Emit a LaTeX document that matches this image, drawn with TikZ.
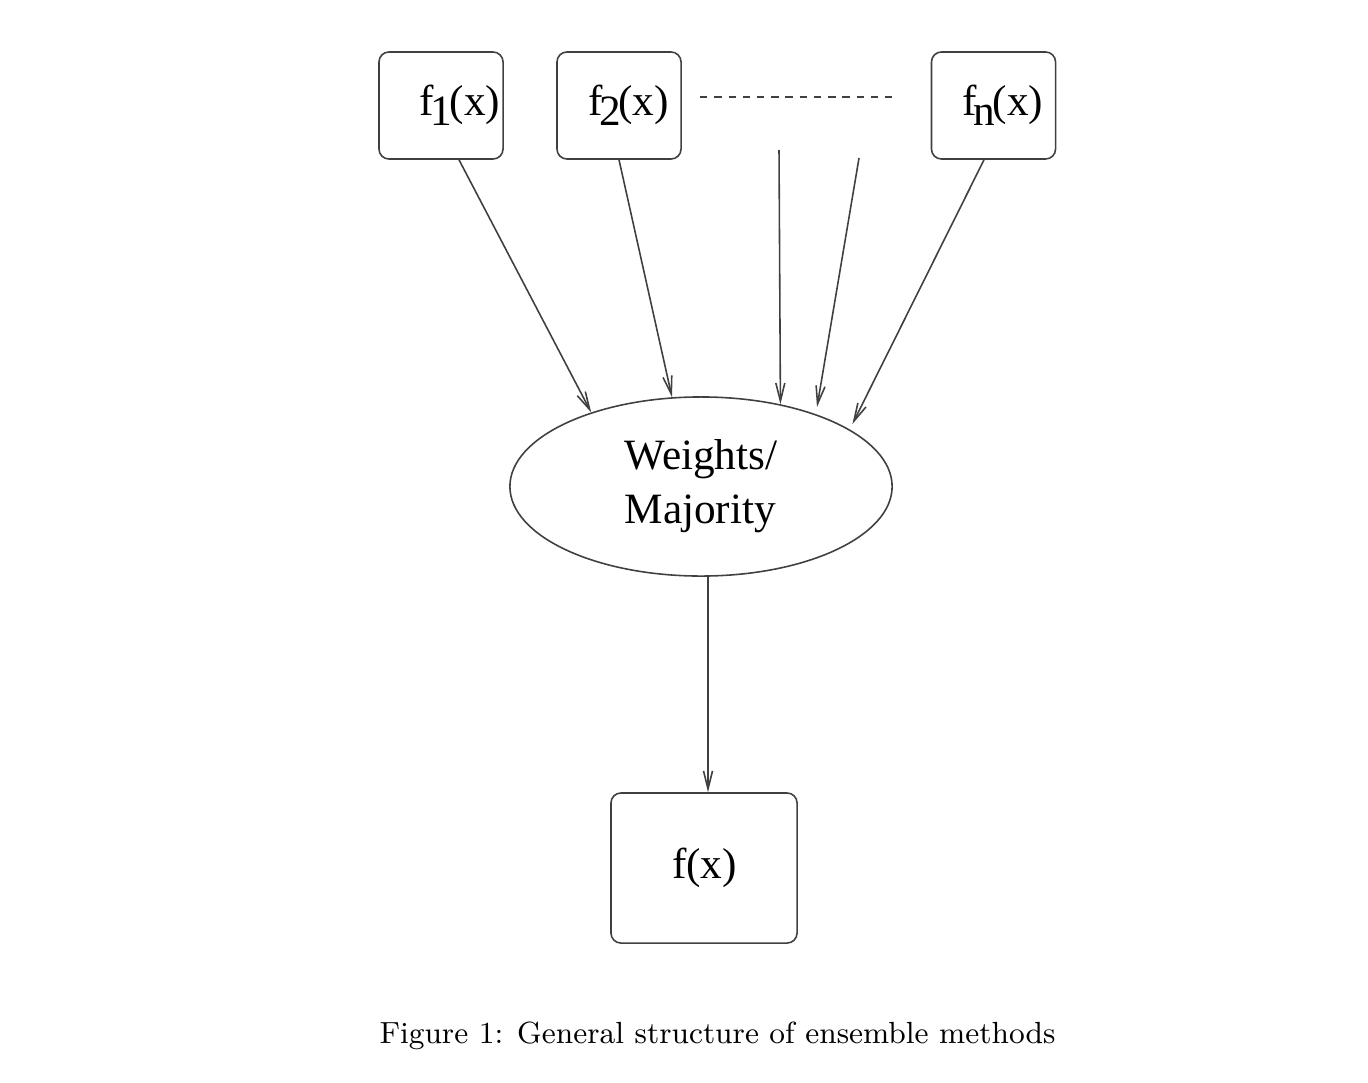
\documentclass[tikz,border=0pt]{standalone}
\usepackage{fontspec}
\newfontfamily\figfont{Liberation Serif}
\usetikzlibrary{shapes.geometric,arrows.meta,calc}
\newcommand{\fsub}[1]{f\kern-0.08em\raisebox{-0.24em}{#1}\kern-0.06em(x)}
\tikzset{
  box/.style={draw=black!75, line width=0.45pt, rounded corners=0.1cm, minimum width=1.24cm, minimum height=1.07cm, inner sep=0pt},
  lbl/.style={font=\figfont\fontsize{12.3}{15.4}\selectfont, inner sep=0pt},
  arr/.style={draw=black!75, line width=0.45pt, -{Straight Barb[length=1.8mm,width=0.9mm]}}
}
\begin{document}
\begin{tikzpicture}[x=0.01cm,y=-0.01cm]
    \useasboundingbox (0,0) rectangle (1368,1082);
    % top row of classifiers
    \node[box] (f1) at (441,105.5) {};
    \node[box] (f2) at (619,105.5) {};
    \node[box] (fn) at (993.5,105.5) {};
    \node[lbl] (t1) at (460,105) {\fsub{1}};
    \node[lbl] (t2) at (628.5,105) {\fsub{2}};
    \node[lbl] (tn) at (1003,105) {\fsub{n}};
    \coordinate (d1) at (700,97);
    \coordinate (d2) at (892,97);
    \draw[black!75, line width=0.45pt, dash pattern=on 2.1pt off 1.95pt] (d1) -- (d2);
    % combiner
    \node[ellipse, draw=black!75, line width=0.45pt, minimum width=3.82cm, minimum height=1.79cm, inner sep=0pt,
          lbl, align=left] (w) at (701,486.5) {Weights/\\Majority};
    % output
    \node[box, minimum width=1.86cm, minimum height=1.5cm] (out) at (704,868) {};
    \node[lbl] (tout) at (704.5,868) {f(x)};
    % arrows
    \coordinate (a3) at (779,150);
    \coordinate (a4) at (859,158);
    \coordinate (b4) at (817,407);
    \draw[arr] ($(f1.south)+(18,0)$) -- (w.146.7);
    \draw[arr] (f2.south) -- (w.108.1);
    \draw[arr] (a3) -- (w.46.3);
    \draw[arr] (a4) -- (b4);
    \draw[arr, shorten >=0.06cm] ($(fn.south)+(-9.5,0)$) -- (w.21.5);
    \draw[arr] ($(w.south)+(7,0)$) -- ($(out.north)+(4,0)$);
    % caption
    \node[font=\fontsize{8.7}{11}\selectfont, inner sep=0pt] (cap) at (717.5,1036) {Figure 1: General structure of ensemble methods};
\end{tikzpicture}
\end{document}
